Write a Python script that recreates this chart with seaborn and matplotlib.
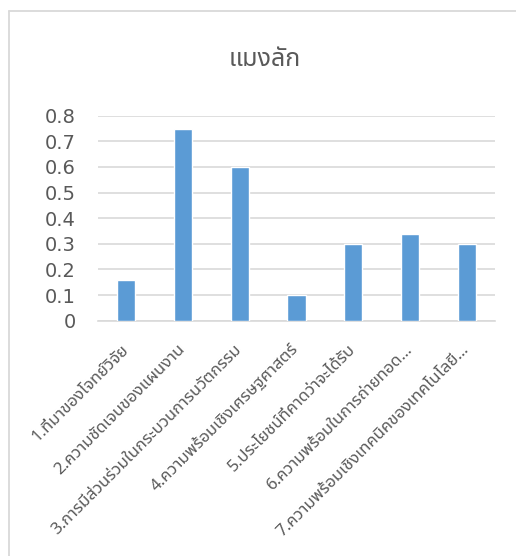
import matplotlib
matplotlib.use("Agg")
import matplotlib.pyplot as plt
from matplotlib import font_manager
from matplotlib.lines import Line2D
import seaborn as sns
import pandas as pd

# Chart data
title = "แมงลัก"
categories = [
    "1.ที่มาของโจทย์วิจัย",
    "2.ความชัดเจนของแผนงาน",
    "3.การมีส่วนร่วมในกระบวนการนวัตกรรม",
    "4.ความพร้อมเชิงเศรษฐศาสตร์",
    "5.ประโยชน์ที่คาดว่าจะได้รับ",
    "6.ความพร้อมในการถ่ายทอด…",
    "7.ความพร้อมเชิงเทคนิคของเทคโนโลยี…",
]
values = [0.16, 0.75, 0.60, 0.10, 0.30, 0.34, 0.30]
y_ticks = [0, 0.1, 0.2, 0.3, 0.4, 0.5, 0.6, 0.7, 0.8]
y_tick_labels = ["0", "0.1", "0.2", "0.3", "0.4", "0.5", "0.6", "0.7", "0.8"]


def find_thai_family():
    """Return the name of an installed font that covers the Thai block."""
    try:
        from fontTools.ttLib import TTFont
    except Exception:
        return None
    found = []
    for fe in font_manager.fontManager.ttflist:
        try:
            tt = TTFont(fe.fname, fontNumber=0, lazy=True)
            cmap = tt.getBestCmap() or {}
            if 0x0E01 in cmap and 0x0E21 in cmap:
                found.append(fe.name)
        except Exception:
            continue
    if not found:
        return None
    for pref in ("Noto Sans Thai", "Noto Sans Thai UI", "Loma", "Garuda",
                 "Sarabun", "TH Sarabun New", "Tlwg Typo", "Kinnari"):
        if pref in found:
            return pref
    return sorted(found)[0]


sns.set_theme(style="white")
thai = find_thai_family()
families = ([thai] if thai else []) + ["DejaVu Sans"]
plt.rcParams["font.family"] = families

text_color = "#595959"
grid_color = "#D9D9D9"
bar_color = "#5B9BD5"

W, H = 516, 556
fig = plt.figure(figsize=(W / 100, H / 100), dpi=100)
fig.patch.set_facecolor("white")

# Chart frame: top and left edges (the rest runs off the canvas)
x0, y0 = 8.5 / W, 1 - 10.5 / H
fig.add_artist(Line2D([x0, 1.0], [y0, y0], transform=fig.transFigure,
                      color=grid_color, linewidth=1.3))
fig.add_artist(Line2D([x0, x0], [0.0, y0], transform=fig.transFigure,
                      color=grid_color, linewidth=1.3))

ax = fig.add_axes([98 / W, (H - 320.7) / H, (495 - 98) / W, (320.7 - 115.7) / H])

df = pd.DataFrame({"category": categories, "value": values})
sns.barplot(data=df, x="category", y="value", color=bar_color, width=0.32,
            saturation=1, ax=ax, zorder=3)

ax.set_ylim(0, 0.8)
ax.set_yticks(y_ticks)
ax.set_yticklabels(y_tick_labels, fontsize=14, color=text_color,
                   family=["DejaVu Sans"])
ax.yaxis.grid(True, color=grid_color, linewidth=1.2, zorder=0)
ax.set_axisbelow(True)
ax.set_xlim(-0.5, len(categories) - 0.5)

for s in ("top", "right", "left"):
    ax.spines[s].set_visible(False)
ax.spines["bottom"].set_color(grid_color)
ax.spines["bottom"].set_linewidth(1.2)
ax.tick_params(axis="both", length=0)
ax.tick_params(axis="y", pad=16)
ax.tick_params(axis="x", pad=19)

ax.set_xticks(range(len(categories)))
ax.set_xticklabels(categories, rotation=45, ha="right", va="center",
                   rotation_mode="anchor", fontsize=12, color=text_color,
                   family=families, fontweight="light")
ax.set_xlabel("")
ax.set_ylabel("")

fig.text(265 / W, 1 - 60 / H, title, ha="center", va="center",
         fontsize=18, color=text_color, family=families, fontweight="light")

fig.savefig("out.png", dpi=100, facecolor="white")
